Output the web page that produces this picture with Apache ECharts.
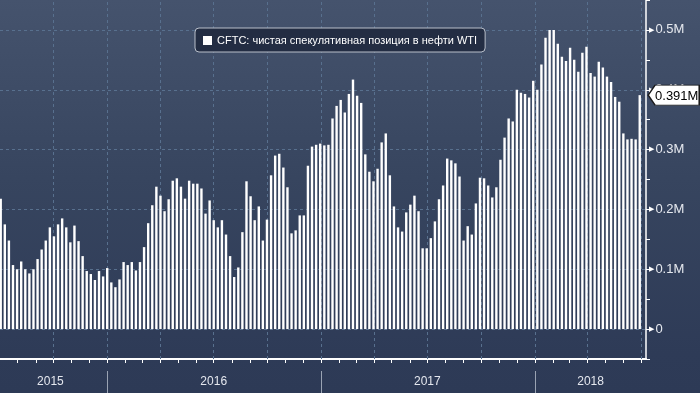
<!DOCTYPE html>
<html><head><meta charset="utf-8">
<script src="https://cdn.jsdelivr.net/npm/echarts@6/dist/echarts.min.js"></script>
<style>html,body{margin:0;padding:0;background:#2d3a56;}#c{width:700px;height:393px;}</style>
</head><body><div id="c"></div>
<script>
// ---- data ----
const firstWeek = '2015-07-03';           // first weekly observation
const seriesName = 'CFTC: чистая спекулятивная позиция в нефти WTI';
const netLongM = [ // weekly net speculative position, millions of contracts
  0.218,0.175,0.148,0.107,0.100,0.113,0.100,0.093,0.100,0.117,0.133,0.148,0.170,0.155,0.175,0.185,
  0.170,0.145,0.173,0.147,0.122,0.097,0.092,0.082,0.097,0.088,0.102,0.078,0.070,0.083,0.112,0.107,
  0.112,0.098,0.112,0.137,0.177,0.207,0.238,0.223,0.197,0.217,0.248,0.252,0.238,0.218,0.248,0.243,
  0.243,0.235,0.193,0.215,0.182,0.170,0.182,0.158,0.122,0.087,0.103,0.162,0.247,0.222,0.182,
  0.205,0.148,0.183,0.257,0.290,0.293,0.270,0.237,0.160,0.165,0.190,0.190,0.273,0.305,0.308,0.310,
  0.307,0.308,0.352,0.373,0.383,0.362,0.393,0.417,0.390,0.378,0.292,0.263,0.247,0.268,0.312,0.327,
  0.257,0.205,0.170,0.163,0.195,0.208,0.223,0.197,0.135,0.135,0.152,0.180,0.217,0.240,0.285,0.282,
  0.277,0.255,0.148,0.172,0.158,0.210,0.253,0.252,0.240,0.220,0.237,0.283,0.320,0.352,0.347,
  0.400,0.395,0.393,0.387,0.415,0.400,0.442,0.487,0.500,0.500,0.477,0.455,0.448,0.470,0.450,0.430,
  0.462,0.472,0.428,0.422,0.447,0.437,0.422,0.413,0.388,0.380,0.327,0.317,0.318,0.317,0.391
];
const yTickLabels = ['0','0.1M','0.2M','0.3M','0.4M','0.5M'];
const yearLabels = ['2015','2016','2017','2018'];
const yearLabelDates = ['2015-09-26','2016-07-01','2017-07-01','2018-04-06'];
const yearStarts = ['2016-01-01','2017-01-01','2018-01-01'];
const quarterLines = ['2015-10-01','2016-01-01','2016-04-01','2016-07-01','2016-10-01','2017-01-01',
  '2017-04-01','2017-07-01','2017-10-01','2018-01-01','2018-04-01','2018-07-01'];
const hGridValues = [0,0.1,0.2,0.3,0.4,0.5];
const lastLabel = '0.391M';

// ---- build ----
const DAY = 86400000;
const ts = s => Date.parse(s + 'T00:00:00Z');
const t0 = ts(firstWeek);
const points = netLongM.map((v, i) => [t0 + i * 7 * DAY, v]);
const xMin = Date.UTC(2015, 6, 1, 19);
const xMax = Date.UTC(2018, 6, 9, 17);
const monthTicks = [];
for (let y = 2015; y <= 2018; y++) for (let m = 0; m < 12; m++) {
  const t = Date.UTC(y, m, 1); if (t > xMin && t < xMax) monthTicks.push(t);
}
const yearLabelTs = yearLabelDates.map(ts);
const font = '"Liberation Sans", Arial, sans-serif';
const grid = '#58708e';

const chart = echarts.init(document.getElementById('c'), null, {renderer: 'canvas'});
chart.setOption({
  animation: false,
  backgroundColor: {type: 'linear', x: 0, y: 0, x2: 0, y2: 1, colorStops: [
    {offset: 0, color: '#45536d'}, {offset: 0.45, color: '#37455f'},
    {offset: 0.9, color: '#2e3b57'}, {offset: 1, color: '#2d3a56'}]},
  textStyle: {fontFamily: font},
  legend: {
    left: 195, top: 28, padding: [7, 8, 6, 8],
    backgroundColor: '#232d43', borderColor: '#b9bfca', borderWidth: 1, borderRadius: 4,
    icon: 'rect', itemWidth: 9, itemHeight: 9, itemGap: 5,
    textStyle: {color: '#ffffff', fontSize: 11, fontFamily: font},
    data: [{name: seriesName, itemStyle: {color: '#fff'}}]
  },
  grid: {left: 0, right: 54, top: -1, bottom: 34},
  xAxis: [{
    type: 'value', min: xMin, max: xMax, scale: true,
    axisLine: {show: true, onZero: false, lineStyle: {color: '#ffffff', width: 2}},
    axisTick: {show: true, customValues: monthTicks, length: 4, lineStyle: {color: '#ffffff', width: 1}},
    axisLabel: {show: false}, splitLine: {show: false}
  }, {
    type: 'value', min: xMin, max: xMax, scale: true, position: 'bottom', offset: 12,
    axisLine: {show: false, onZero: false},
    axisTick: {show: true, customValues: yearStarts.map(ts), length: 24, lineStyle: {color: '#9aa3b3', width: 1}},
    axisLabel: {show: true, customValues: yearLabelTs, margin: 5,
      color: '#e4e7ee', fontSize: 12, fontFamily: font,
      formatter: v => yearLabels[yearLabelTs.indexOf(v)] || ''},
    splitLine: {show: false}
  }],
  yAxis: {
    type: 'value', position: 'right', min: -0.05, max: 0.55, interval: 0.05,
    axisLine: {show: true, lineStyle: {color: '#ffffff', width: 1.5}},
    axisTick: {show: true, length: 4, lineStyle: {color: '#ffffff'}},
    splitLine: {show: false},
    axisLabel: {
      margin: 3,
      formatter: v => {
        const k = Math.round(v * 20);
        if (k < 0 || k % 2 || k / 2 >= yTickLabels.length) return '';
        return '{a|▶}{t|' + yTickLabels[k / 2] + '}';
      },
      rich: {
        a: {color: '#ffffff', fontSize: 7, padding: [0, 1, 0, 0], fontFamily: 'DejaVu Sans'},
        t: {color: '#e6e9ef', fontSize: 13, fontFamily: font}
      }
    }
  },
  series: [{
    name: seriesName, type: 'bar', data: points, barWidth: 2.4,
    itemStyle: {color: '#ffffff'}, z: 3,
    markLine: {
      silent: true, symbol: 'none', z: 1, label: {show: false},
      lineStyle: {color: grid, type: [3, 3], width: 1},
      data: quarterLines.map(d => ({xAxis: ts(d)})).concat(hGridValues.map(v => ({yAxis: v})))
    },
    markPoint: {
      silent: true,
      data: [{coord: points[points.length - 1], value: lastLabel}],
      symbol: 'path://M0,10L7,0L52,0L52,20L7,20Z', symbolSize: [51, 20], symbolKeepAspect: false,
      symbolOffset: [34, 0],
      itemStyle: {color: '#ffffff', borderColor: '#1a1a1a', borderWidth: 1},
      label: {show: true, formatter: lastLabel, color: '#000000', fontSize: 13, fontFamily: font, offset: [3, 1]}
    }
  }]
});
</script></body></html>
